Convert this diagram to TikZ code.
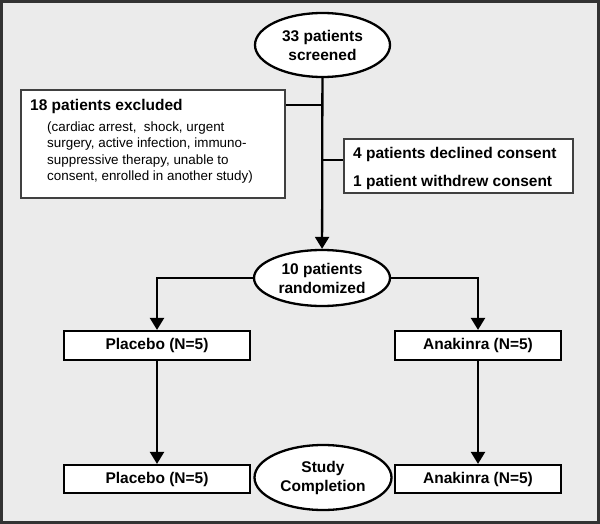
\documentclass[tikz,border=0pt]{standalone}
\usepackage{fontspec}
\setmainfont{Liberation Sans}
\usetikzlibrary{shapes.geometric,arrows.meta}
\begin{document}
\begin{tikzpicture}[x=1pt,y=-1pt,
  conn/.style={line width=2.3pt, draw=black},
  arr/.style={conn, -{Triangle[width=14pt,length=12pt]}},
  oval/.style={ellipse, draw=black, line width=2.3pt, fill=white, inner sep=0pt, align=center,
    font=\fontsize{15.5}{19}\selectfont\bfseries},
  box/.style={rectangle, draw=black, line width=2.2pt, fill=white, inner sep=0pt,
    font=\fontsize{15.5}{19}\selectfont\bfseries},
  thinbox/.style={rectangle, draw=black!75, line width=1.1pt, fill=white, inner sep=0pt},
  lbl/.style={inner sep=0pt, anchor=base west},
  bigtxt/.style={lbl, font=\fontsize{15.5}{19}\selectfont\bfseries},
  smalltxt/.style={lbl, font=\fontsize{13.4}{16.3}\selectfont, align=left},
]
\useasboundingbox (0,0) rectangle (600,524);
\draw[line width=3pt, draw=black!80, fill=black!8] (1.5,1.5) rectangle (598.5,522.5);

% nodes
\node[oval, minimum width=135pt, minimum height=64pt] (e1) at (322.5,45) {33 patients\\screened};
\node[oval, minimum width=136pt, minimum height=56pt] (e2) at (322,278) {10 patients\\randomized};
\node[oval, minimum width=137pt, minimum height=65pt] (e3) at (323,477.5) {Study\\Completion};

\node[thinbox, minimum width=264pt, minimum height=108pt] (excl) at (153,144) {};
\node[bigtxt] (exclt) at (30,110.5) {18 patients excluded};
\node[smalltxt, anchor=north west] (excls) at (47,121.5) {(cardiac arrest,\ \ shock, urgent\\surgery, active infection, immuno-\\suppressive therapy, unable to\\consent, enrolled in another study)};

\node[thinbox, minimum width=229pt, minimum height=54pt] (cons) at (458.5,166) {};
\node[bigtxt] (cons1) at (353,158.5) {4 patients declined consent};
\node[bigtxt] (cons2) at (353,186.5) {1 patient withdrew consent};

\node[box, minimum width=186pt, minimum height=29pt] (p1) at (157,345.5) {Placebo (N=5)};
\node[box, minimum width=166pt, minimum height=29pt] (a1) at (478,345.5) {Anakinra (N=5)};
\node[box, minimum width=186pt, minimum height=28pt] (p2) at (157,479) {Placebo (N=5)};
\node[box, minimum width=166pt, minimum height=28pt] (a2) at (478,479) {Anakinra (N=5)};

% connectors
\coordinate (b1) at (322,105);
\coordinate (b2) at (322,160);
\draw[arr] (e1) -- (e2);
\draw[conn] (b1 -| excl.east) -- (b1);
\draw[conn] (b2) -- (b2 -| cons.west);
\draw[arr] (e2.west) -| (p1.north);
\draw[arr] (e2.east) -| (a1.north);
\draw[arr] (p1) -- (p2);
\draw[arr] (a1) -- (a2);
\end{tikzpicture}
\end{document}
